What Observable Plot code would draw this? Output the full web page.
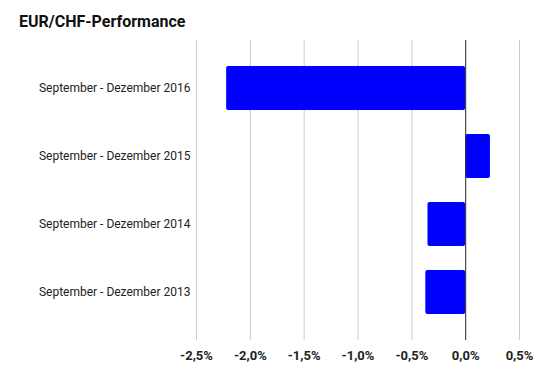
<!DOCTYPE html>
<html>
<head>
<meta charset="utf-8">
<script src="https://cdn.jsdelivr.net/npm/d3@7"></script>
<script src="https://cdn.jsdelivr.net/npm/@observablehq/plot@0.6"></script>
<style>
  html, body { margin: 0; padding: 0; background: #fff; }
  body { width: 540px; height: 371px; overflow: hidden; font-family: Roboto, sans-serif; }
  #title { height: 40px; box-sizing: border-box; padding: 13px 0 0 19px; font: bold 16px Roboto, sans-serif; color: #111; line-height: 18px; }
  svg { display: block; }
</style>
</head>
<body>
<div id="title">EUR/CHF-Performance</div>
<div id="chart"></div>
<script>
const categories = [
  "September - Dezember 2016",
  "September - Dezember 2015",
  "September - Dezember 2014",
  "September - Dezember 2013"
];
const values = [-2.22, 0.23, -0.35, -0.37];
const xTicks = [-2.5, -2.0, -1.5, -1.0, -0.5, 0.0, 0.5];

const data = categories.map((c, i) => ({category: c, value: values[i]}));
const fmt = d => d.toFixed(1).replace(".", ",") + "%";

const chart = Plot.plot({
  width: 540,
  height: 331,
  marginTop: 0,
  marginBottom: 31,
  marginLeft: 196,
  marginRight: 21,
  style: {fontFamily: "Roboto, sans-serif", fontSize: "12px", color: "#222", background: "#fff"},
  x: {domain: [-2.5, 0.5], ticks: xTicks, tickFormat: fmt, label: null},
  y: {domain: categories, padding: 0.35, label: null},
  marks: [
    Plot.gridX(xTicks, {stroke: "#ccc", strokeOpacity: 1}),
    Plot.barX(data, {x: "value", y: "category", fill: "#0000ff", rx: 2}),
    Plot.ruleX([0], {stroke: "#333", strokeWidth: 1}),
    Plot.axisX(xTicks, {tickSize: 0, tickPadding: 10, tickFormat: fmt, fontWeight: "bold", fontSize: 13, fill: "#222", label: null}),
    Plot.axisY({tickSize: 0, tickPadding: 6, fontSize: 12, fill: "#222", label: null})
  ]
});
document.getElementById("chart").appendChild(chart);
</script>
</body>
</html>
